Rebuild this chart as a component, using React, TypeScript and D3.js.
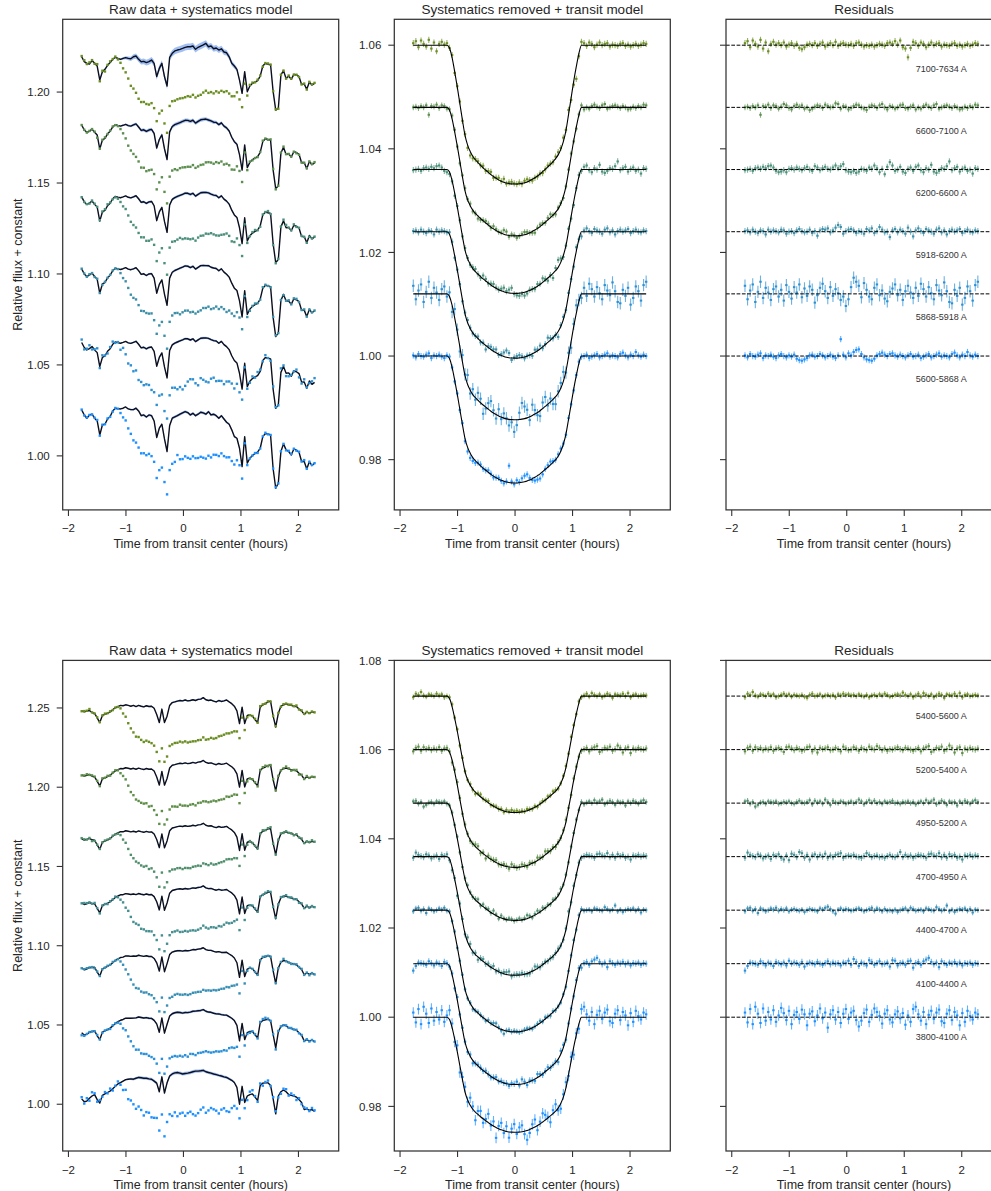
import React from "react";
import * as d3 from "d3";

// ---------------- data ----------------
const TIMES = [
  -1.77, -1.725, -1.68, -1.635, -1.59, -1.545, -1.5, -1.455, -1.41, -1.365,
  -1.32, -1.275, -1.23, -1.185, -1.14, -1.095, -1.05, -1.005, -0.96, -0.915,
  -0.87, -0.825, -0.78, -0.735, -0.69, -0.645, -0.6, -0.555, -0.51, -0.465,
  -0.42, -0.375, -0.33, -0.285, -0.24, -0.195, -0.15, -0.105, -0.06, -0.015,
  0.03, 0.075, 0.12, 0.165, 0.21, 0.255, 0.3, 0.345, 0.39, 0.435,
  0.48, 0.525, 0.57, 0.615, 0.66, 0.705, 0.75, 0.795, 0.84, 0.885,
  0.93, 0.975, 1.02, 1.065, 1.11, 1.155, 1.2, 1.245, 1.29, 1.335,
  1.38, 1.425, 1.47, 1.515, 1.56, 1.605, 1.65, 1.695, 1.74, 1.785,
  1.83, 1.875, 1.92, 1.965, 2.01, 2.055, 2.1, 2.145, 2.19, 2.235,
  2.28,
];

// transit model, as fraction of the full depth
const TRANSIT_SHAPE = [
  0, 0, 0, 0, 0, 0, 0, 0, 0, 0,
  0, 0, 0, 0, 0.02, 0.09, 0.19, 0.3, 0.42, 0.54,
  0.65, 0.72, 0.765, 0.8, 0.825, 0.845, 0.865, 0.883, 0.9, 0.916,
  0.932, 0.946, 0.958, 0.97, 0.979, 0.987, 0.993, 0.997, 0.999, 1,
  1, 0.998, 0.995, 0.991, 0.985, 0.976, 0.966, 0.955, 0.942, 0.928,
  0.911, 0.894, 0.876, 0.858, 0.838, 0.817, 0.79, 0.75, 0.695, 0.615,
  0.5, 0.38, 0.26, 0.155, 0.06, 0, 0, 0, 0, 0,
  0, 0, 0, 0, 0, 0, 0, 0, 0, 0,
  0, 0, 0, 0, 0, 0, 0, 0, 0, 0,
  0,
];

// systematics model (first figure row): bluest band and reddest band
const SYS_TOP_LOW = [
  1.0253, 1.0225, 1.0207, 1.0225, 1.0229, 1.0207, 1.0192, 1.0115, 1.017, 1.0174,
  1.0203, 1.0216, 1.0247, 1.0262, 1.026, 1.0258, 1.0262, 1.0269, 1.0258, 1.0254,
  1.0254, 1.0262, 1.0247, 1.0221, 1.0225, 1.0214, 1.0225, 1.0221, 1.0192, 1.0101,
  1.0152, 1.0174, 1.0093, 1.0024, 1.0167, 1.0207, 1.0214, 1.0221, 1.0229, 1.0236,
  1.0243, 1.0238, 1.0225, 1.0234, 1.0221, 1.0229, 1.024, 1.0236, 1.0229, 1.0243,
  1.0225, 1.0229, 1.0221, 1.0207, 1.0221, 1.0203, 1.0185, 1.0174, 1.0143, 1.0106,
  1.0097, 1.0042, 0.9941, 1.0106, 0.996, 0.9987, 1.0002, 1.0013, 1.002, 1.0042,
  1.0106, 1.0123, 1.0121, 1.0115, 0.9928, 0.9822, 0.985, 1.0024, 1.0066, 1.0033,
  1.0024, 1.0005, 1.0038, 1.0031, 1.002, 0.9969, 0.9969, 0.9928, 0.9969, 0.9947,
  0.996,
];
const SYS_TOP_HIGH = [
  1.0194, 1.0167, 1.0158, 1.0154, 1.0173, 1.0158, 1.0143, 1.0066, 1.0112, 1.0125,
  1.0147, 1.0162, 1.018, 1.0191, 1.0185, 1.018, 1.0185, 1.0189, 1.0185, 1.0183,
  1.0194, 1.0198, 1.018, 1.0167, 1.0169, 1.0162, 1.0167, 1.0176, 1.0158, 1.0085,
  1.013, 1.0158, 1.0085, 1.0033, 1.0191, 1.0213, 1.0226, 1.0231, 1.0235, 1.024,
  1.0246, 1.0249, 1.0249, 1.0253, 1.0235, 1.0246, 1.0253, 1.026, 1.0268, 1.0249,
  1.0253, 1.0238, 1.0242, 1.0231, 1.0238, 1.022, 1.0216, 1.0194, 1.0158, 1.0143,
  1.0125, 1.0066, 0.9993, 1.0112, 1.0002, 1.0033, 1.0048, 1.0055, 1.0063, 1.0088,
  1.0143, 1.0158, 1.0152, 1.0151, 1.0002, 0.9901, 0.9911, 1.0094, 1.0118, 1.0075,
  1.0088, 1.007, 1.0097, 1.0094, 1.0085, 1.0042, 1.0044, 1.0015, 1.0055, 1.0039,
  1.0048,
];
// systematics model (second figure row)
const SYS_BOT_LOW = [
  1.0034, 1.0016, 1.002, 1.0038, 1.0052, 1.0061, 1.0029, 1.0007, 1.0056, 1.0065,
  1.0074, 1.0083, 1.0097, 1.0113, 1.0128, 1.0137, 1.0146, 1.0155, 1.0158, 1.016,
  1.0158, 1.0164, 1.0169, 1.0167, 1.0164, 1.0164, 1.016, 1.0158, 1.0146, 1.0133,
  1.0079, 1.0173, 1.007, 1.0135, 1.0178, 1.0191, 1.0198, 1.02, 1.0196, 1.0191,
  1.0194, 1.0196, 1.02, 1.0205, 1.0209, 1.0209, 1.0211, 1.0214, 1.0205, 1.02,
  1.0196, 1.0191, 1.0187, 1.0182, 1.0178, 1.0173, 1.0169, 1.016, 1.0151, 1.0137,
  1.0106, 1.0, 1.0113, 1.0011, 1.0052, 1.0061, 1.0065, 1.0045, 1.0023, 1.0119,
  1.0133, 1.0135, 1.0135, 1.0119, 1.0034, 0.9939, 1.0052, 1.0079, 1.009, 1.0079,
  1.0061, 1.0056, 1.0052, 1.0045, 1.0029, 1.0011, 0.9966, 0.9971, 0.9962, 0.9966,
  0.9955,
];
const SYS_BOT_HIGH = [
  1.0082, 1.0075, 1.008, 1.0084, 1.0071, 1.0066, 1.0037, 1.0008, 1.0053, 1.0059,
  1.0066, 1.0075, 1.0089, 1.0102, 1.0109, 1.0116, 1.0114, 1.012, 1.0116, 1.0111,
  1.0116, 1.0109, 1.0116, 1.0111, 1.0107, 1.0114, 1.0109, 1.0111, 1.0098, 1.0059,
  1.0008, 1.0093, 1.0008, 1.0048, 1.0116, 1.0134, 1.0138, 1.0143, 1.0147, 1.0145,
  1.015, 1.0145, 1.0147, 1.0152, 1.0147, 1.0154, 1.0156, 1.0165, 1.0152, 1.0147,
  1.015, 1.0143, 1.0138, 1.0147, 1.0141, 1.0145, 1.015, 1.0138, 1.0127, 1.0111,
  1.0082, 1.0001, 1.0105, 1.0001, 1.0053, 1.0057, 1.0048, 1.0026, 1.0008, 1.0105,
  1.012, 1.0127, 1.0138, 1.0143, 1.0048, 0.998, 1.0066, 1.0111, 1.012, 1.0125,
  1.012, 1.0116, 1.0111, 1.0109, 1.0093, 1.0082, 1.0059, 1.0075, 1.0066, 1.0075,
  1.0071,
];

// bands, bottom (bluest) first
const TOP_BANDS = ["5600-5868 A", "5868-5918 A", "5918-6200 A", "6200-6600 A", "6600-7100 A", "7100-7634 A"];
const TOP_DEPTHS = [0.0245, 0.0243, 0.0244, 0.0239, 0.0248, 0.0268];
const TOP_SYS_MIX = [0, 0.5, 0.43, 0.5, 0.58, 1];
const TOP_ERRORS = [0.0006, 0.0012, 0.0006, 0.0006, 0.00055, 0.0006];
const TOP_SYS_ERRORS = [0.0006, 0.0005, 0.0005, 0.0006, 0.0008, 0.0014];

const BOT_BANDS = ["3800-4100 A", "4100-4400 A", "4400-4700 A", "4700-4950 A", "4950-5200 A", "5200-5400 A", "5400-5600 A"];
const BOT_DEPTHS = [0.0258, 0.0271, 0.0273, 0.0266, 0.0263, 0.0264, 0.0261];
const BOT_SYS_MIX = [0, 0.35, 0.55, 0.75, 0.85, 0.92, 1];
const BOT_ERRORS = [0.0012, 0.0007, 0.0006, 0.0007, 0.0006, 0.0007, 0.0006];
const BOT_SYS_ERRORS = [0.0008, 0.0006, 0.0004, 0.0004, 0.0003, 0.0003, 0.0004];

// residuals, in units of RESIDUAL_UNIT
const RESIDUAL_UNIT = 1.3e-4;
const RES_5600_5868 = [
  1, -2, 3, 0, -1, 2, 4, -3, 1, 0, 2, -1, -3, 1, 3, 0, -2, 1, -1, 2,
  -4, -6, -7, -5, -3, 1, 2, -1, 0, 3, 1, -2, 0, 2, -1, -3, 1, 25, 2, -2,
  4, 1, 6, 9, 10, 3, -2, -5, -6, -7, -4, 1, 3, 5, 2, 0, 3, 4, 1, -1,
  2, 0, -2, 1, 3, -1, 0, 2, -3, -1, 1, 3, -2, 0, 2, 4, -1, 1, 0, -2,
  3, 5, 1, -2, 2, 0, 6, 1, -1, 2, 0,
];
const RES_5868_5918 = [
  12, -8, 5, 14, -12, 3, 18, -6, 9, 2, -9, 7, 11, -4, 6, -10, 13, 3, -7, 10,
  2, 14, -5, 8, -3, 11, 6, -13, -2, 9, 15, 4, -6, 10, -3, 7, 1, -9, -4, -18,
  -8, 10, 24, 18, 12, -5, 16, 6, -4, -8, 9, 14, -2, 5, -7, -11, 3, 8, 14, -2,
  6, -9, 4, 12, 2, -6, 9, -3, 15, 7, -4, 10, 1, -8, 13, 5, -2, 17, 4, -12,
  -14, 6, -3, 9, -16, -6, 11, 4, -10, 13, 18,
];
const RES_5918_6200 = [
  1, 2, -1, 3, 0, -2, 2, 1, -4, 3, 0, 2, 1, -1, 3, 2, -3, 0, 1, -2,
  2, 4, 1, -1, 0, 3, -2, 1, -6, 2, 4, 3, 5, -1, 2, 6, 10, 7, -3, 1,
  3, 4, 2, -2, 1, 0, -3, 4, 2, 5, -2, 1, 7, 3, -1, 0, -8, 2, 4, -1,
  3, 1, -3, 6, 0, -7, 2, 5, 1, -2, 4, 2, 0, -3, 3, 5, -1, 2, -4, 1,
  3, 0, 2, 4, -2, 1, 3, 0, -1, 2, 1,
];
const RES_6200_6600 = [
  -1, 0, 1, -2, 2, 3, 1, 4, 2, 5, 6, 3, -2, -4, -3, -1, -4, 1, 2, 0,
  3, 1, -1, 2, 4, 0, -2, 5, 3, -1, 2, 4, 1, 0, 3, 6, 2, 5, 8, -1,
  -3, -4, -2, -5, -3, 1, 0, -2, 3, 1, 6, 2, -4, 1, -7, 4, 11, 6, -2, 0,
  4, -3, -5, 1, 3, -2, 4, 6, -1, -4, 2, 0, 7, -3, -5, -2, 2, 1, 5, 12,
  -1, 2, 4, -3, 1, 3, -2, 0, -6, 2, 1,
];
const RES_6600_7100 = [
  0, 1, -1, 2, 0, 3, -11, 2, 1, 4, -1, 3, 2, -2, 1, 5, 3, -1, -3, 2,
  4, 1, 3, -2, 0, -4, -2, 1, 3, 2, -1, 4, 2, 0, 1, 6, 5, -2, 2, 1,
  -3, -1, 2, 4, 3, 0, -2, -4, 1, 3, 2, -1, 3, 5, 0, -3, 2, 1, -2, 0,
  3, 4, -1, -2, 1, 3, -3, 0, -2, 2, 4, 1, -1, 3, 5, -2, 0, 2, 3, 1,
  -1, 2, 0, -3, -2, 1, -1, 2, 0, 4, 3,
];
const RES_7100_7634 = [
  3, 6, -3, 7, 2, -2, 8, -5, 4, -9, 2, 5, 1, 3, 0, 4, -2, 1, 3, -1,
  2, -4, -6, -3, 1, 2, 0, 3, -1, 2, 4, -2, 1, 3, 0, 5, -1, 2, 3, 1,
  0, 2, -1, 3, 4, 1, -2, 0, -1, 1, -2, 0, 2, 1, -1, 3, 4, 2, 6, 1,
  7, -3, -5, -18, -4, 5, 3, -1, 4, 2, -3, 1, 4, 0, 2, 3, -2, 1, 0, -1,
  2, 3, -1, 1, -2, 0, 2, -1, 1, 3, 2,
];
const RES_3800_4100 = [
  8, -9, 14, -12, 18, 6, -10, 15, -6, 9, -4, 12, -8, 3, 16, 7, -5, 11, -12, 4,
  9, -3, 13, 5, -14, 6, 10, -7, 3, 15, -2, 8, -18, 5, 12, -4, 9, -10, 6, 14,
  -3, 8, 11, -5, -16, -6, 7, 13, -8, 4, 15, 9, 2, -11, 6, 12, -4, -9, 5, 10,
  -2, 7, -13, 3, -8, 14, 18, 5, -6, 9, -12, 4, 11, -3, 8, 13, -7, -10, 6, 12,
  -5, 9, 3, -14, 7, -8, 11, 2, -4, 8, 5,
];
const RES_4100_4400 = [
  -12, -4, 2, 1, 0, -2, 4, 1, -3, 2, 0, -4, 3, 1, -1, 2, -3, 5, 0, 2,
  1, -2, 3, -5, 0, 2, 1, -1, 3, 0, -2, 1, 4, -1, 2, 0, 1, -3, 2, 1,
  5, -2, 8, 3, -4, 2, 0, -3, 6, 3, -2, 1, 4, -1, 0, 2, -5, 6, 5, -3,
  1, 2, -2, 4, 5, -7, 1, 3, -2, 4, 7, 10, 3, -1, 2, -6, 4, 1, -2, 2,
  0, 3, -1, 2, -3, 1, 0, 2, -2, 1, 0,
];
const RES_4400_4700 = [
  -2, 3, 4, -1, 2, -5, 3, 1, -2, 0, 3, 1, 4, -1, 2, 0, 3, -2, 1, 2,
  0, -1, 1, -3, 0, 2, 1, 0, -2, 3, 1, 4, 6, 2, -2, -6, 1, 3, 0, 2,
  1, -1, 0, 2, 3, 1, -2, 0, 2, 4, -1, 3, 1, -2, 2, -1, 0, -2, 1, -3,
  0, 2, 3, -1, 4, 2, -1, 0, 1, -2, 3, 2, 0, -1, 5, 2, -1, 1, 8, -2,
  1, -3, 0, 2, 1, 3, -1, 2, -4, 1, 0,
];
const RES_4700_4950 = [
  -2, 7, 3, 1, -1, 4, 2, -3, 0, 2, -4, 3, 1, 4, -2, -5, 2, -6, 5, 3,
  -1, 8, 6, -2, 3, -5, 2, 4, -1, 3, 0, 5, -2, 2, -1, 3, 4, 6, -2, 1,
  2, 1, 3, 0, -1, -2, 1, 6, 3, -1, 1, 2, -1, 0, -2, 1, 3, 0, -1, 2,
  8, -1, 3, 0, 2, -2, 1, 3, 2, 1, -2, 4, 5, 2, 1, 6, -1, 3, -2, 4,
  1, 3, -2, 0, -5, 2, 1, 3, 0, 2, 1,
];
const RES_4950_5200 = [
  3, 4, -1, 2, -6, -3, 1, 2, -1, 3, 2, 1, 3, -1, 0, 2, 1, 3, 0, -1,
  2, 4, 1, 0, 2, 5, -2, 4, 1, 3, -1, 6, 2, -3, 4, 1, 0, 3, 2, -1,
  1, 3, 0, 2, 6, 3, -2, 2, 5, 1, 4, 0, 2, -1, 3, 1, 2, 4, 0, 1,
  -1, 2, 1, 3, 0, 2, -2, 1, 3, 0, 5, 1, 3, 6, -2, 1, 4, 2, -3, 3,
  1, 2, -4, 3, 0, 4, 2, -1, 3, 5, 2,
];
const RES_5200_5400 = [
  -3, 3, 5, -2, 4, 1, 3, -1, 2, 0, 4, -2, 2, 3, 1, -4, 4, 5, 2, -1,
  3, 1, -2, 0, 4, 5, -3, 2, -5, 3, 1, 2, 4, -1, 0, 3, 1, -3, 5, 2,
  -1, 0, 4, 2, -2, 3, 1, -1, 5, 2, 0, 6, 3, -1, 2, -2, 1, 0, 2, 4,
  1, -1, 3, 2, 0, -2, 1, 3, -3, 2, 4, 6, -4, -1, 3, 2, 5, -2, 1, 7,
  3, -5, 2, 4, -6, 2, 0, 3, 1, 0, 2,
];
const RES_5400_5600 = [
  -2, 4, 2, 7, 1, -1, 3, 2, 0, 4, 1, 3, -2, 0, 2, 4, 1, 3, -1, 2,
  1, 0, 2, -1, -3, 2, 4, 0, 1, 3, -1, 1, 2, 0, 2, -2, 3, 1, 4, 2,
  3, 1, 2, 0, 3, 1, -1, 2, -2, 1, 2, 0, 3, 1, 4, 2, -1, 0, 2, 3,
  1, 6, 2, 0, 3, -2, 1, 4, -1, 5, 2, 0, 3, -2, 1, 4, 2, -3, 3, 2,
  1, 4, 0, 5, -2, 2, 3, 0, 1, 2, 1,
];

const TOP_RESIDUALS = [RES_5600_5868, RES_5868_5918, RES_5918_6200, RES_6200_6600, RES_6600_7100, RES_7100_7634];
const BOT_RESIDUALS = [RES_3800_4100, RES_4100_4400, RES_4400_4700, RES_4700_4950, RES_4950_5200, RES_5200_5400, RES_5400_5600];

const RAW_OFFSET_STEP = 0.04;
const DETRENDED_OFFSET_STEP = 0.012;

const X_DOMAIN: [number, number] = [-2.1, 2.7];
const X_TICKS = [-2, -1, 0, 1, 2];
const TOP_RAW_TICKS = [1.0, 1.05, 1.1, 1.15, 1.2];
const TOP_DET_TICKS = [0.98, 1.0, 1.02, 1.04, 1.06];
const BOT_RAW_TICKS = [1.0, 1.05, 1.1, 1.15, 1.2, 1.25];
const BOT_DET_TICKS = [0.98, 1.0, 1.02, 1.04, 1.06, 1.08];

// ---------------- styling / layout ----------------
const FONT = '"Liberation Sans", Arial, "DejaVu Sans", sans-serif';
const INK = "#262626";
const SPINE = "#333333";
const BLUE = "#1e90ff";
const OLIVE = "#6b8e23";
const MODEL_INK = "#0b0f1e";
const SHADE = "#6495ed";
const PANEL_LEFTS = [62.7, 394.3, 726];
const PANEL_W = 276;
const PANEL_H = 490.6;
const ROW_TOPS = [19.3, 660.4];

type Scale = d3.ScaleLinear<number, number>;

function fmtX(v: number) {
  return v < 0 ? "\u2212" + Math.abs(v) : String(v);
}

function Axes(props: {
  id: string;
  left: number;
  top: number;
  yDomain: [number, number];
  yTicks: number[];
  yLabels: boolean;
  title: string;
  ylabel?: string;
  render: (x: Scale, y: Scale) => React.ReactNode;
}) {
  const { id, left, top, yDomain, yTicks, yLabels, title, ylabel, render } = props;
  const x = d3.scaleLinear().domain(X_DOMAIN).range([left, left + PANEL_W]);
  const y = d3.scaleLinear().domain(yDomain).range([top + PANEL_H, top]);
  const bottom = top + PANEL_H;
  return (
    <g>
      <defs>
        <clipPath id={id}>
          <rect x={left} y={top} width={PANEL_W} height={PANEL_H} />
        </clipPath>
      </defs>
      <g clipPath={`url(#${id})`}>{render(x, y)}</g>
      <rect x={left} y={top} width={PANEL_W} height={PANEL_H} fill="none" stroke={SPINE} strokeWidth={1.25} />
      {X_TICKS.map((t) => (
        <g key={"xt" + t}>
          <line x1={x(t)} x2={x(t)} y1={bottom} y2={bottom + 6} stroke={SPINE} strokeWidth={1.1} />
          <text x={x(t)} y={bottom + 22.5} textAnchor="middle" fontSize={11.5} fill={INK} fontFamily={FONT}>
            {fmtX(t)}
          </text>
        </g>
      ))}
      {yTicks.map((t) => (
        <g key={"yt" + t}>
          <line x1={left - 6} x2={left} y1={y(t)} y2={y(t)} stroke={SPINE} strokeWidth={1.1} />
          {yLabels && (
            <text x={left - 13} y={y(t)} dy="0.36em" textAnchor="end" fontSize={11.5} fill={INK} fontFamily={FONT}>
              {t.toFixed(2)}
            </text>
          )}
        </g>
      ))}
      <text x={left + PANEL_W / 2} y={top - 5.5} textAnchor="middle" fontSize={13.5} fill={INK} fontFamily={FONT}>
        {title}
      </text>
      <text x={left + PANEL_W / 2} y={bottom + 38} textAnchor="middle" fontSize={12.5} fill={INK} fontFamily={FONT}>
        Time from transit center (hours)
      </text>
      {ylabel && (
        <text
          transform={`translate(21.5, ${top + PANEL_H / 2}) rotate(-90)`}
          textAnchor="middle"
          fontSize={12.5}
          fill={INK}
          fontFamily={FONT}
        >
          {ylabel}
        </text>
      )}
    </g>
  );
}

type RowSpec = {
  key: string;
  top: number;
  bands: string[];
  depths: number[];
  mix: number[];
  errors: number[];
  sysErrors: number[];
  residuals: number[][];
  sysLow: number[];
  sysHigh: number[];
  rawDomain: [number, number];
  rawTicks: number[];
  detDomain: [number, number];
  detTicks: number[];
};

const ROWS: RowSpec[] = [
  {
    key: "top",
    top: ROW_TOPS[0],
    bands: TOP_BANDS,
    depths: TOP_DEPTHS,
    mix: TOP_SYS_MIX,
    errors: TOP_ERRORS,
    sysErrors: TOP_SYS_ERRORS,
    residuals: TOP_RESIDUALS,
    sysLow: SYS_TOP_LOW,
    sysHigh: SYS_TOP_HIGH,
    rawDomain: [0.9703, 1.24],
    rawTicks: TOP_RAW_TICKS,
    detDomain: [0.9703, 1.065],
    detTicks: TOP_DET_TICKS,
  },
  {
    key: "bot",
    top: ROW_TOPS[1],
    bands: BOT_BANDS,
    depths: BOT_DEPTHS,
    mix: BOT_SYS_MIX,
    errors: BOT_ERRORS,
    sysErrors: BOT_SYS_ERRORS,
    residuals: BOT_RESIDUALS,
    sysLow: SYS_BOT_LOW,
    sysHigh: SYS_BOT_HIGH,
    rawDomain: [0.9705, 1.28],
    rawTicks: BOT_RAW_TICKS,
    detDomain: [0.97, 1.08],
    detTicks: BOT_DET_TICKS,
  },
];

type Pt = { t: number; sys: number; shade: number; raw: number; det: number; model: number; res: number; err: number };

function buildBand(row: RowSpec, i: number): Pt[] {
  const n = Math.min(TIMES.length, TRANSIT_SHAPE.length, row.sysLow.length, row.sysHigh.length);
  const pts: Pt[] = [];
  for (let k = 0; k < n; k++) {
    const sysRel = row.sysLow[k] + row.mix[i] * (row.sysHigh[k] - row.sysLow[k]);
    const r = (row.residuals[i][k] ?? 0) * RESIDUAL_UNIT;
    const transit = 1 - row.depths[i] * TRANSIT_SHAPE[k];
    const base = 1 + DETRENDED_OFFSET_STEP * i;
    pts.push({
      t: TIMES[k],
      sys: RAW_OFFSET_STEP * i + sysRel,
      shade: row.sysErrors[i] * (0.3 + TRANSIT_SHAPE[k]),
      raw: RAW_OFFSET_STEP * i + sysRel * (transit + r),
      det: base - row.depths[i] * TRANSIT_SHAPE[k] + r,
      model: base - row.depths[i] * TRANSIT_SHAPE[k],
      res: base + r,
      err: row.errors[i],
    });
  }
  return pts;
}

function ErrPoints({ pts, x, y, field, color }: { pts: Pt[]; x: Scale; y: Scale; field: "det" | "res"; color: string }) {
  return (
    <g>
      {pts.map((d, k) => {
        const v = d[field];
        return (
          <g key={k}>
            <line
              x1={x(d.t)}
              x2={x(d.t)}
              y1={y(v - d.err)}
              y2={y(v + d.err)}
              stroke={color}
              strokeOpacity={0.7}
              strokeWidth={1.1}
            />
            <rect x={x(d.t) - 1.2} y={y(v) - 1} width={2.4} height={2} fill={color} />
          </g>
        );
      })}
    </g>
  );
}

function RowPanels({ row }: { row: RowSpec }) {
  const n = row.bands.length;
  const color = (i: number) => d3.interpolateRgb(BLUE, OLIVE)(i / (n - 1));
  const bands = row.bands.map((_, i) => buildBand(row, i));

  return (
    <g>
      <Axes
        id={row.key + "-raw"}
        left={PANEL_LEFTS[0]}
        top={row.top}
        yDomain={row.rawDomain}
        yTicks={row.rawTicks}
        yLabels={true}
        title="Raw data + systematics model"
        ylabel="Relative fliux + constant"
        render={(x, y) => {
          const area = d3
            .area<Pt>()
            .x((d) => x(d.t))
            .y0((d) => y(d.sys - d.shade))
            .y1((d) => y(d.sys + d.shade));
          const line = d3
            .line<Pt>()
            .x((d) => x(d.t))
            .y((d) => y(d.sys));
          return bands.map((pts, i) => (
            <g key={i}>
              <path d={area(pts) || ""} fill={SHADE} fillOpacity={0.6} stroke="none" />
              <path d={line(pts) || ""} fill="none" stroke={MODEL_INK} strokeWidth={1.4} strokeLinejoin="round" />
              {pts.map((d, k) => (
                <rect key={k} x={x(d.t) - 1.2} y={y(d.raw) - 1.2} width={2.4} height={2.4} fill={color(i)} />
              ))}
            </g>
          ));
        }}
      />
      <Axes
        id={row.key + "-det"}
        left={PANEL_LEFTS[1]}
        top={row.top}
        yDomain={row.detDomain}
        yTicks={row.detTicks}
        yLabels={true}
        title="Systematics removed + transit model"
        render={(x, y) => {
          const line = d3
            .line<Pt>()
            .x((d) => x(d.t))
            .y((d) => y(d.model))
            .curve(d3.curveMonotoneX);
          return bands.map((pts, i) => (
            <g key={i}>
              <ErrPoints pts={pts} x={x} y={y} field="det" color={color(i)} />
              <path d={line(pts) || ""} fill="none" stroke="#000" strokeWidth={1.1} />
            </g>
          ));
        }}
      />
      <Axes
        id={row.key + "-res"}
        left={PANEL_LEFTS[2]}
        top={row.top}
        yDomain={row.detDomain}
        yTicks={row.detTicks}
        yLabels={false}
        title="Residuals"
        render={(x, y) =>
          bands.map((pts, i) => {
            const base = 1 + DETRENDED_OFFSET_STEP * i;
            return (
              <g key={i}>
                <ErrPoints pts={pts} x={x} y={y} field="res" color={color(i)} />
                <line
                  x1={x(X_DOMAIN[0])}
                  x2={x(X_DOMAIN[1])}
                  y1={y(base)}
                  y2={y(base)}
                  stroke="#000"
                  strokeWidth={1}
                  strokeDasharray="3.7,1.6"
                />
                <text x={x(1.2)} y={y(base - 0.0045)} dy="0.35em" fontSize={9} fill="#333" fontFamily={FONT}>
                  {row.bands[i]}
                </text>
              </g>
            );
          })
        }
      />
    </g>
  );
}

export default function App() {
  return (
    <svg
      width={991}
      height={1191}
      viewBox="0 0 991 1191"
      style={{ position: "absolute", left: 0, top: 0, background: "#fff" }}
    >
      <rect x={0} y={0} width={991} height={1191} fill="#fff" />
      {ROWS.map((row) => (
        <RowPanels key={row.key} row={row} />
      ))}
    </svg>
  );
}
